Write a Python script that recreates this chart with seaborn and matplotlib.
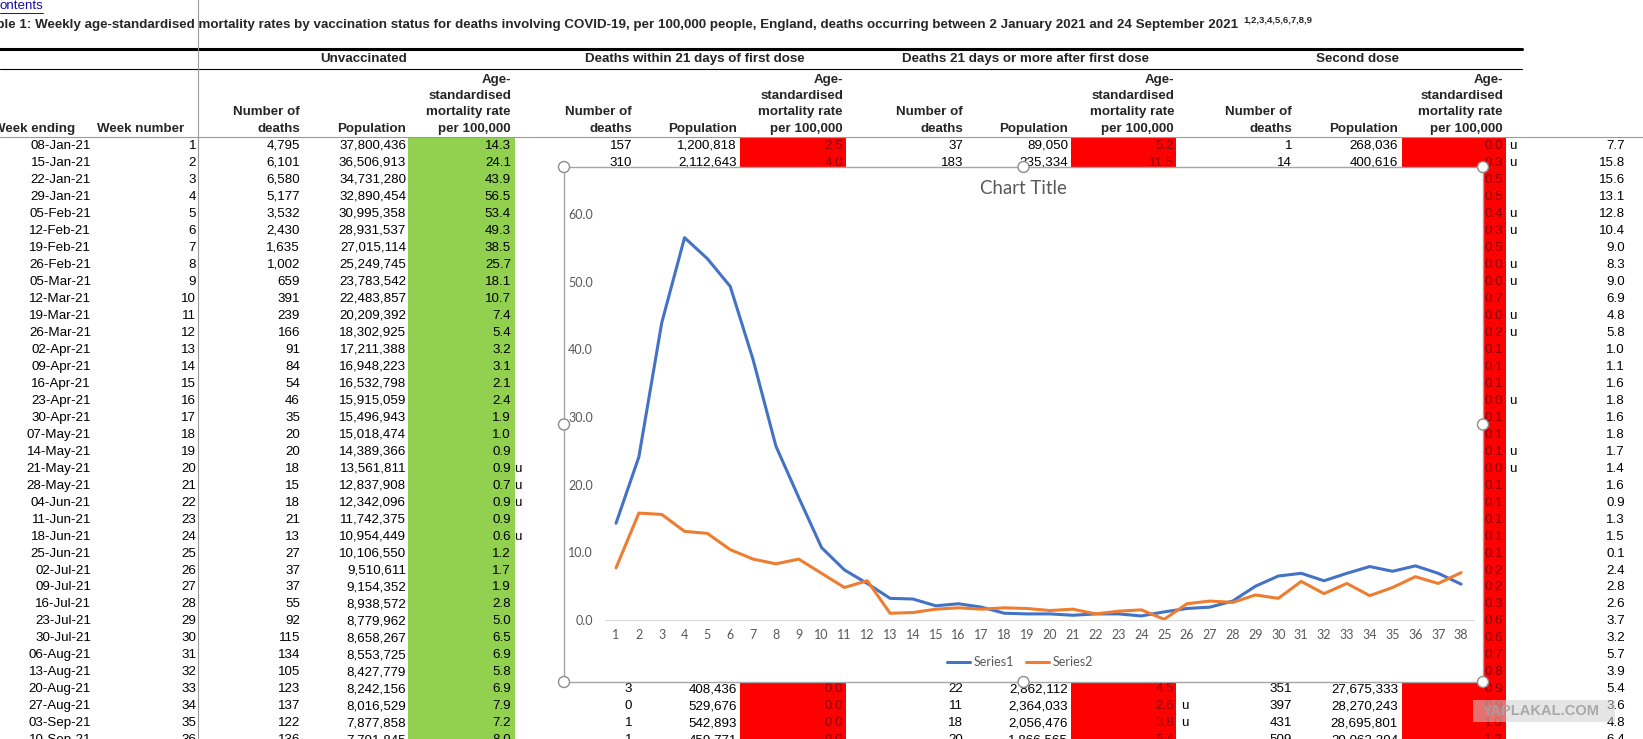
import matplotlib.pyplot as plt
from matplotlib.patches import Rectangle, Circle
from matplotlib.lines import Line2D
import seaborn as sns
import pandas as pd

# ---- data ----
week_ending = ['08-Jan-21', '15-Jan-21', '22-Jan-21', '29-Jan-21', '05-Feb-21', '12-Feb-21',
               '19-Feb-21', '26-Feb-21', '05-Mar-21', '12-Mar-21', '19-Mar-21', '26-Mar-21',
               '02-Apr-21', '09-Apr-21', '16-Apr-21', '23-Apr-21', '30-Apr-21', '07-May-21',
               '14-May-21', '21-May-21', '28-May-21', '04-Jun-21', '11-Jun-21', '18-Jun-21',
               '25-Jun-21', '02-Jul-21', '09-Jul-21', '16-Jul-21', '23-Jul-21', '30-Jul-21',
               '06-Aug-21', '13-Aug-21', '20-Aug-21', '27-Aug-21', '03-Sep-21', '10-Sep-21']
week_number = list(range(1, 39))

unvax_deaths = [4795, 6101, 6580, 5177, 3532, 2430, 1635, 1002, 659, 391, 239, 166, 91, 84, 54,
                46, 35, 20, 20, 18, 15, 18, 21, 13, 27, 37, 37, 55, 92, 115, 134, 105, 123,
                137, 122, 136]
unvax_pop = [37800436, 36506913, 34731280, 32890454, 30995358, 28931537, 27015114, 25249745,
             23783542, 22483857, 20209392, 18302925, 17211388, 16948223, 16532798, 15915059,
             15496943, 15018474, 14389366, 13561811, 12837908, 12342096, 11742375, 10954449,
             10106550, 9510611, 9154352, 8938572, 8779962, 8658267, 8553725, 8427779,
             8242156, 8016529, 7877858, 7791845]
# Series1 on the chart = unvaccinated rate (weeks 37-38 only on the chart)
unvax_rate = [14.3, 24.1, 43.9, 56.5, 53.4, 49.3, 38.5, 25.7, 18.1, 10.7, 7.4, 5.4, 3.2, 3.1,
              2.1, 2.4, 1.9, 1.0, 0.9, 0.9, 0.7, 0.9, 0.9, 0.6, 1.2, 1.7, 1.9, 2.8, 5.0, 6.5,
              6.9, 5.8, 6.9, 7.9, 7.2, 8.0, 6.9, 5.3]
unvax_flag_rows = [20, 21, 22, 24]

# rows of the middle groups that are not hidden by the chart
visible_rows = [1, 2, 33, 34, 35, 36]
first_deaths = [157, 310, 3, 0, 1, 1]
first_pop = [1200818, 2112643, 408436, 529676, 542893, 459771]
first_rate = [2.5, 4.0, 0.0, 0.0, 0.0, 0.0]

after_deaths = [37, 183, 22, 11, 18, 20]
after_pop = [89050, 335334, 2862112, 2364033, 2056476, 1866565]
after_rate = [5.2, 11.5, 4.5, 2.6, 3.8, 5.4]
after_flag_rows = [34, 35]

second_deaths = [1, 14, 351, 397, 431, 509]
second_pop = [268036, 400616, 27675333, 28270243, 28695801, 29063394]
second_rate = [0.0, 0.3, 0.5, 0.5, 0.4, 0.3, 0.5, 0.0, 0.0, 0.7, 0.0, 0.2, 0.1, 0.1, 0.1, 0.0,
               0.1, 0.1, 0.1, 0.0, 0.1, 0.1, 0.1, 0.1, 0.1, 0.2, 0.2, 0.3, 0.6, 0.6, 0.7, 0.8,
               0.9, 0.9, 1.0, 1.2]
second_flag_rows = [1, 2, 5, 6, 8, 9, 11, 12, 16, 19, 20]

# Series2 on the chart = extra column at the right of the sheet
extra_col = [7.7, 15.8, 15.6, 13.1, 12.8, 10.4, 9.0, 8.3, 9.0, 6.9, 4.8, 5.8, 1.0, 1.1, 1.6,
             1.8, 1.6, 1.8, 1.7, 1.4, 1.6, 0.9, 1.3, 1.5, 0.1, 2.4, 2.8, 2.6, 3.7, 3.2, 5.7,
             3.9, 5.4, 3.6, 4.8, 6.4, 5.4, 7.0]

group_titles = ['Unvaccinated', 'Deaths within 21 days of first dose',
                'Deaths 21 days or more after first dose', 'Second dose']
title = ('able 1: Weekly age-standardised mortality rates by vaccination status for deaths '
         'involving COVID-19, per 100,000 people, England, deaths occurring between '
         '2 January 2021 and 24 September 2021')
footnotes = '1,2,3,4,5,6,7,8,9'

# ---- layout (pixels) ----
W, H = 1643, 739
FS = 9.6
GREEN, RED, DARKRED = '#92D050', '#FF0000', '#8B0000'
group_centres = [364, 695, 1026, 1358]
# right edges: deaths, population, rate
group_cols = [(300, 406, 511), (632, 737, 843), (963, 1068, 1174), (1292, 1398, 1503)]
fills = [(408, 107, GREEN), (740, 106, RED), (1071, 105, RED), (1402, 104, RED)]


def row_y(r):
    return 146 + (r - 1) * 16.98


sns.set_theme(style='white')
plt.rcParams['font.family'] = ['Liberation Sans', 'DejaVu Sans']

fig = plt.figure(figsize=(W / 100, H / 100), dpi=100)
ax = fig.add_axes([0, 0, 1, 1])
ax.set_xlim(0, W)
ax.set_ylim(H, 0)
ax.axis('off')

# cell fills
for x0, w, c in fills:
    ax.add_patch(Rectangle((x0, 137), w, H - 137, color=c, lw=0))

# rules
ax.plot([0, 1522], [49, 49], color='black', lw=2.2)
ax.plot([0, 1522], [69, 69], color='black', lw=0.8)
ax.plot([0, W], [137, 137], color='#9a9a9a', lw=0.8)
ax.plot([198, 198], [0, H], color='#9a9a9a', lw=0.8)

# link + title
ax.text(0, 6, 'ontents', color='#1a0dab', fontsize=FS, va='center')
ax.plot([0, 43], [13, 13], color='#1a0dab', lw=0.7)
ax.text(1238, 25, title, fontsize=FS, fontweight='bold', ha='right', va='center')
ax.text(1243, 20, footnotes, fontsize=6.8, fontweight='bold', ha='left', va='center')

# header
for cx, t in zip(group_centres, group_titles):
    ax.text(cx, 59, t, fontsize=FS, fontweight='bold', ha='center', va='center')
ax.text(75, 129, 'Week ending', fontsize=FS, fontweight='bold', ha='right', va='center')
ax.text(184, 129, 'Week number', fontsize=FS, fontweight='bold', ha='right', va='center')
for xd, xp, xr in group_cols:
    ax.text(xd, 112, 'Number of', fontsize=FS, fontweight='bold', ha='right', va='center')
    ax.text(xd, 129, 'deaths', fontsize=FS, fontweight='bold', ha='right', va='center')
    ax.text(xp, 129, 'Population', fontsize=FS, fontweight='bold', ha='right', va='center')
    for yy, t in zip([80, 96, 112, 129], ['Age-', 'standardised', 'mortality rate', 'per 100,000']):
        ax.text(xr, yy, t, fontsize=FS, fontweight='bold', ha='right', va='center')


def cell(x, r, s, color='black', ha='right'):
    ax.text(x, row_y(r), s, fontsize=FS, ha=ha, va='center', color=color)


# left part of the table and the right-hand columns
for i, d in enumerate(week_ending):
    r = i + 1
    cell(91, r, d)
    cell(196, r, str(week_number[i]))
    cell(group_cols[0][0], r, f'{unvax_deaths[i]:,}')
    cell(group_cols[0][1], r, f'{unvax_pop[i]:,}')
    cell(group_cols[0][2], r, f'{unvax_rate[i]:.1f}')
    cell(group_cols[3][2], r, f'{second_rate[i]:.1f}', DARKRED)
    cell(1625, r, f'{extra_col[i]:.1f}')
for r in unvax_flag_rows:
    cell(514, r, 'u', ha='left')
for r in second_flag_rows:
    cell(1509, r, 'u', ha='left')
for r in after_flag_rows:
    cell(1181, r, 'u', ha='left')

# middle groups (mostly under the chart)
for j, r in enumerate(visible_rows):
    for g, (dd, pp, rr) in zip([1, 2], [(first_deaths, first_pop, first_rate),
                                        (after_deaths, after_pop, after_rate)]):
        xd, xp, xr = group_cols[g]
        cell(xd, r, f'{dd[j]:,}')
        cell(xp, r, f'{pp[j]:,}')
        cell(xr, r, f'{rr[j]:.1f}', DARKRED)
    xd, xp, _ = group_cols[3]
    cell(xd, r, f'{second_deaths[j]:,}')
    cell(xp, r, f'{second_pop[j]:,}')

# ---- embedded Excel chart ----
cx0, cx1, cy0, cy1 = 564, 1483, 167, 682
box = fig.add_axes([cx0 / W, 1 - cy1 / H, (cx1 - cx0) / W, (cy1 - cy0) / H])
box.set_facecolor('white')
box.set_xticks([])
box.set_yticks([])
for s in box.spines.values():
    s.set_color('#a6a6a6')
    s.set_linewidth(1.0)

px0, px1, py0, py1 = 604.6, 1472.5, 214, 620
pa = fig.add_axes([px0 / W, 1 - py1 / H, (px1 - px0) / W, (py1 - py0) / H])
pa.patch.set_alpha(0)

df = pd.DataFrame({
    'week': week_number * 2,
    'rate': unvax_rate + extra_col,
    'series': ['Series1'] * len(week_number) + ['Series2'] * len(week_number),
})
palette = {'Series1': '#4472C4', 'Series2': '#ED7D31'}
sns.lineplot(data=df, x='week', y='rate', hue='series', palette=palette,
             linewidth=2.2, ax=pa, legend=False)
pa.set_xlim(0.5, 38.5)
pa.set_ylim(0, 60)
pa.set_xlabel('')
pa.set_ylabel('')
pa.set_xticks(week_number)
pa.set_xticklabels([str(w) for w in week_number], fontfamily='Lato', fontsize=9, color='#595959')
yt = list(range(0, 61, 10))
pa.set_yticks(yt)
pa.set_yticklabels([f'{v:.1f}' for v in yt], fontfamily='Lato', fontsize=9, color='#595959')
pa.tick_params(axis='y', length=0, pad=8.4)
pa.tick_params(axis='x', length=0, pad=6.5)
pa.grid(False)
for s in ['left', 'top', 'right']:
    pa.spines[s].set_visible(False)
pa.spines['bottom'].set_color('#D9D9D9')
pa.spines['bottom'].set_linewidth(0.8)

fig.text(1023 / W, 1 - 188 / H, 'Chart Title', fontsize=13.4, color='#595959',
         ha='center', va='center', fontfamily='Lato')
handles = [Line2D([], [], color=palette[k], lw=2.2) for k in palette]
leg = fig.legend(handles, list(palette), loc='center', bbox_to_anchor=(1020 / W, 1 - 662 / H),
                 ncol=2, frameon=False, handlelength=1.8, handletextpad=0.3,
                 columnspacing=1.0, prop={'family': 'Lato', 'size': 9})
for t in leg.get_texts():
    t.set_color('#595959')

# ---- overlay: selection handles and watermark ----
ov = fig.add_axes([0, 0, 1, 1])
ov.set_xlim(0, W)
ov.set_ylim(H, 0)
ov.axis('off')
ov.patch.set_alpha(0)
mx, my = (cx0 + cx1) / 2, (cy0 + cy1) / 2
for hx, hy in [(cx0, cy0), (mx, cy0), (cx1, cy0), (cx0, my), (cx1, my),
               (cx0, cy1), (mx, cy1), (cx1, cy1)]:
    ov.add_patch(Circle((hx, hy), 5.5, fc='white', ec='#8c8c8c', lw=1.0, zorder=5))
ov.add_patch(Rectangle((1473, 700), 142, 22, fc='#d0d0d0', alpha=0.55, lw=0))
ov.text(1541, 711, 'YAPLAKAL.COM', fontsize=10.5, fontweight='bold', color='#a3a3a3',
        ha='center', va='center', alpha=0.9)

fig.savefig('out.png', dpi=100)
